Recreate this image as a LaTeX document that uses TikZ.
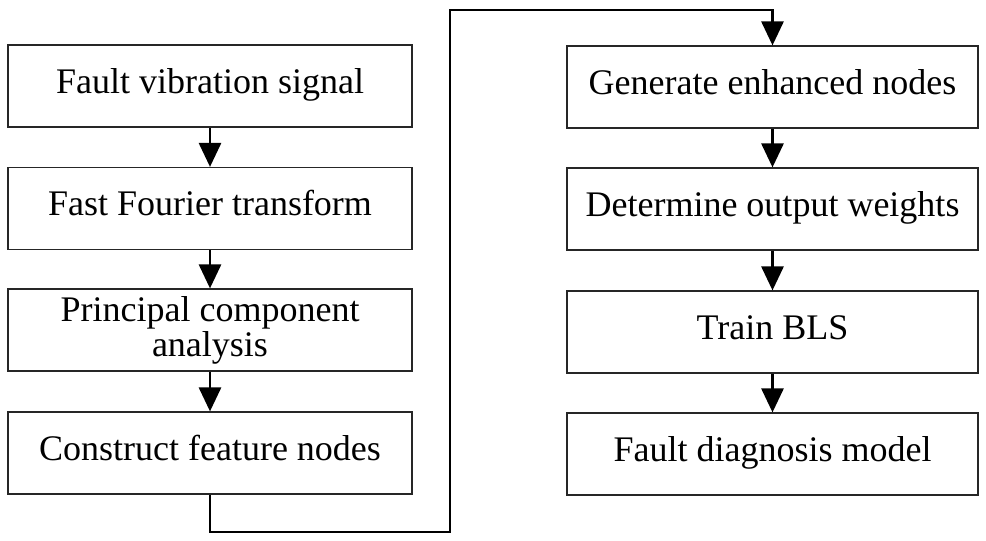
\documentclass[tikz,border=0pt]{standalone}
\usepackage{fontspec}
\setmainfont{Liberation Serif}
\usetikzlibrary{arrows.meta}
\begin{document}
\begin{tikzpicture}[x=1pt,y=-1pt,
  box/.style={draw=black!85,line width=1.2pt,rectangle,minimum height=82pt,inner sep=0pt,align=center,font=\fontsize{36}{35}\selectfont},
  one/.style={text height=14pt,text depth=0pt},
  lbox/.style={box,minimum width=404pt},
  rbox/.style={box,minimum width=411pt},
  conn/.style={line width=2.8pt,-{Triangle[length=24pt,width=22pt]}}]
\useasboundingbox (0,0) rectangle (986,541);
\node[lbox,one] (l1) at (210,86) {Fault vibration signal};
\node[lbox,one] (l2) at (210,208.5) {Fast Fourier transform};
\node[lbox] (l3) at (210,330) {Principal component\\analysis};
\node[lbox,one] (l4) at (210,453) {Construct feature nodes};
\node[rbox,one] (r1) at (772.5,87) {Generate enhanced nodes};
\node[rbox,one] (r2) at (772.5,209) {Determine output weights};
\node[rbox,one] (r3) at (772.5,332) {Train BLS};
\node[rbox,one] (r4) at (772.5,454) {Fault diagnosis model};
\coordinate (c1) at (450,532);
\coordinate (c2) at (450,10);
\draw[conn] (l1) -- (l2);
\draw[conn] (l2) -- (l3);
\draw[conn] (l3) -- (l4);
\draw[conn] (r1) -- (r2);
\draw[conn] (r2) -- (r3);
\draw[conn] (r3) -- (r4);
\draw[conn] (l4.south) |- (c1) -- (c2) -| (r1.north);
\end{tikzpicture}
\end{document}
